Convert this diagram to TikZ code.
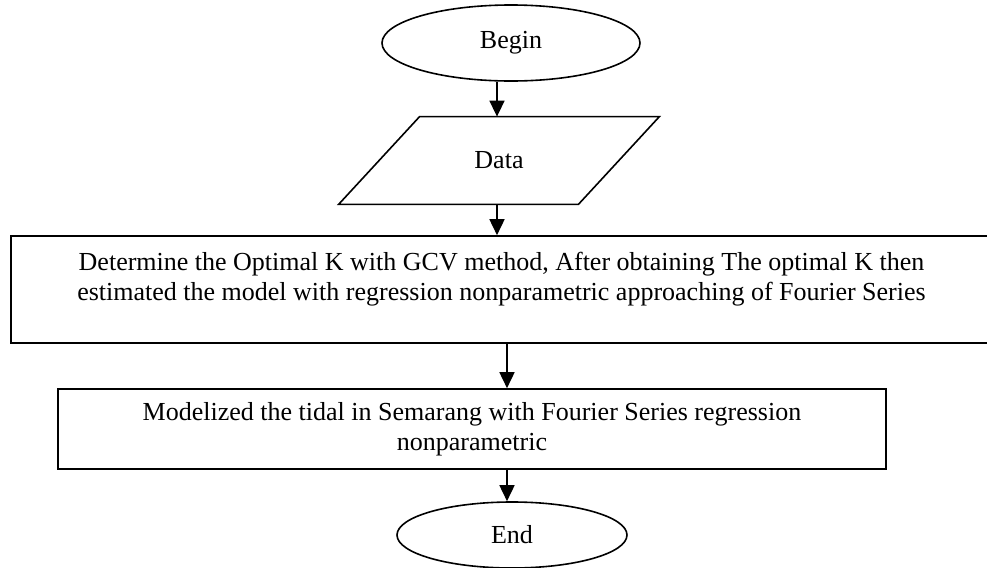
\documentclass[tikz,border=0pt]{standalone}
\usepackage{fontspec}
\setmainfont{Liberation Serif}
\usetikzlibrary{shapes.geometric,arrows.meta}
\begin{document}
\begin{tikzpicture}[x=0.5pt,y=-0.5pt,
  every node/.style={font=\fontsize{13}{15}\selectfont},
  shapeline/.style={draw=black,line width=0.8pt},
  oval/.style={shapeline,ellipse,inner sep=0pt},
  procbox/.style={shapeline,rectangle,inner sep=0pt,align=center},
  arr/.style={line width=0.8pt,-{Triangle[length=8pt,width=7.5pt]}}]
\useasboundingbox (0,0) rectangle (987,568);
\node[oval,minimum width=129pt,minimum height=38pt] (b) at (511,43) {Begin};
\node[inner sep=0pt,minimum width=160pt,minimum height=43.5pt] (d) at (499,160.5) {Data};
\draw[shapeline] ([xshift=40.5pt]d.north west) -- (d.north east) -- ([xshift=-40.5pt]d.south east) -- (d.south west) -- cycle;
\node[procbox,minimum width=490.5pt,minimum height=53.5pt] (k) at (501.5,289.5)
  {Determine the Optimal K with GCV method, After obtaining The optimal K then\\
   estimated the model with regression nonparametric approaching of Fourier Series\\[-6pt]
   \strut};
\node[procbox,minimum width=414pt,minimum height=40pt] (m) at (472,429)
  {Modelized the tidal in Semarang with Fourier Series regression\\ nonparametric};
\node[oval,minimum width=115pt,minimum height=33pt] (e) at (512,535) {End};
\coordinate (c1) at (497,0);
\coordinate (c2) at (507,0);
\draw[arr] (b.south -| c1) -- (d.north -| c1);
\draw[arr] (d.south -| c1) -- (k.north -| c1);
\draw[arr] (k.south -| c2) -- (m.north -| c2);
\draw[arr] (m.south -| c2) -- (e.north -| c2);
\end{tikzpicture}
\end{document}
